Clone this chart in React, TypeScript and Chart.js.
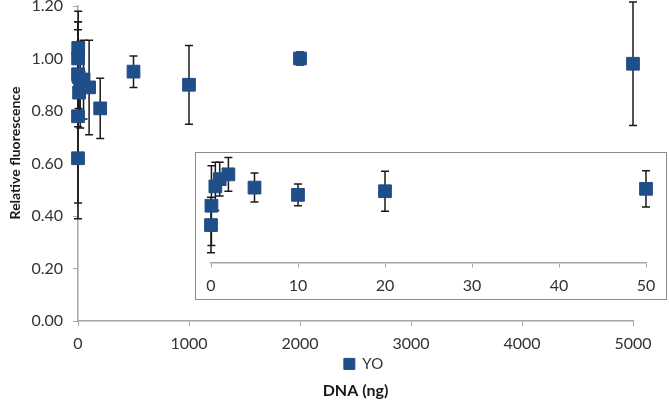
import React, { useEffect, useRef } from "react";
import { Chart, registerables } from "chart.js";

Chart.register(...registerables);

// ---- data ----
const doseNg = [0, 0.05, 0.5, 1, 2, 5, 10, 20, 50, 100, 200, 500, 1000, 2000, 5000];
const relFluor = [0.62, 0.78, 0.94, 1.0, 1.04, 0.93, 0.87, 0.9, 0.92, 0.89, 0.81, 0.95, 0.9, 1.0, 0.98];
const errFluor = [0.23, 0.33, 0.2, 0.14, 0.14, 0.12, 0.09, 0.165, 0.15, 0.18, 0.115, 0.06, 0.15, 0.025, 0.235];
const seriesLabel = "YO";
const xTitle = "DNA (ng)";
const yTitle = "Relative fluorescence";
const mainXTicks = [0, 1000, 2000, 3000, 4000, 5000];
const yTickValues = [0, 0.2, 0.4, 0.6, 0.8, 1.0, 1.2];
const insetXTicks = [0, 10, 20, 30, 40, 50];
const insetMaxX = 50;

// ---- styles ----
const FONT = "Lato";
const MARKER = "#1f4e89";
const AXIS = "#a6a6a6";
const TICK_TEXT = "#333333";
const TITLE_TEXT = "#1a1a1a";

type Pt = { x: number; y: number };

function makeErrorBars(errs: number[]) {
  return {
    id: "errorBars",
    beforeDatasetsDraw(chart: any) {
      const ctx = chart.ctx;
      const xs = chart.scales.x;
      const ys = chart.scales.y;
      const ds = chart.data.datasets[0];
      ctx.save();
      ctx.strokeStyle = "#1a1a1a";
      ctx.lineWidth = 1.5;
      ds.data.forEach((p: Pt, i: number) => {
        const e = errs[i];
        const x = xs.getPixelForValue(p.x);
        const yt = ys.getPixelForValue(p.y + e);
        const yb = ys.getPixelForValue(p.y - e);
        ctx.beginPath();
        ctx.moveTo(x, yt);
        ctx.lineTo(x, yb);
        ctx.moveTo(x - 4, yt);
        ctx.lineTo(x + 4, yt);
        ctx.moveTo(x - 4, yb);
        ctx.lineTo(x + 4, yb);
        ctx.stroke();
      });
      ctx.restore();
    },
  };
}

const yTitlePlugin = {
  id: "yTitle",
  afterDraw(chart: any) {
    const ctx = chart.ctx;
    ctx.save();
    ctx.translate(15, 153);
    ctx.rotate(-Math.PI / 2);
    ctx.font = `bold 14px ${FONT}`;
    ctx.fillStyle = TITLE_TEXT;
    ctx.textAlign = "center";
    ctx.textBaseline = "middle";
    ctx.fillText(yTitle, 0, 0);
    ctx.restore();
  },
};

const legendShift = {
  id: "legendShift",
  afterLayout(chart: any) {
    const l = chart.legend;
    if (l) {
      l.left += 8;
      l.right += 8;
    }
  },
};

const zeroPad = (s: any) => {
  s.paddingTop = 0;
  s.paddingBottom = 0;
  s.paddingLeft = 0;
  s.paddingRight = 0;
};

export default function App() {
  const mainRef = useRef<HTMLCanvasElement | null>(null);
  const insetRef = useRef<HTMLCanvasElement | null>(null);

  useEffect(() => {
    const points: Pt[] = doseNg.map((x, i) => ({ x, y: relFluor[i] }));
    const insetIdx = doseNg.map((x, i) => i).filter((i) => doseNg[i] <= insetMaxX);
    const insetPoints = insetIdx.map((i) => points[i]);
    const insetErrs = insetIdx.map((i) => errFluor[i]);

    const tickFont = { family: FONT, size: 16 };

    const dataset = (data: Pt[]) => ({
      label: seriesLabel,
      data,
      pointStyle: "rect" as const,
      pointRadius: 9,
      pointHoverRadius: 9,
      backgroundColor: MARKER,
      borderColor: MARKER,
      borderWidth: 1,
      showLine: false,
      clip: false as any,
    });

    const main = new Chart(mainRef.current!, {
      type: "scatter",
      data: { datasets: [dataset(points)] },
      options: {
        responsive: false,
        animation: false,
        events: [],
        layout: { autoPadding: false, padding: { top: 6, left: 0, right: 36, bottom: 0 } } as any,
        scales: {
          x: {
            type: "linear",
            min: 0,
            max: 5000,
            afterBuildTicks: (s: any) => {
              s.ticks = mainXTicks.map((v) => ({ value: v }));
            },
            afterFit: (s: any) => {
              s.height = 31.4;
              zeroPad(s);
            },
            grid: { drawOnChartArea: false, drawTicks: true, tickLength: 5, color: AXIS },
            border: { color: AXIS, width: 1.5 },
            ticks: { font: tickFont, color: TICK_TEXT, padding: 8, maxRotation: 0, callback: (v: any) => String(v) },
          },
          y: {
            type: "linear",
            min: 0,
            max: 1.2,
            afterBuildTicks: (s: any) => {
              s.ticks = yTickValues.map((v) => ({ value: v }));
            },
            afterFit: (s: any) => {
              s.width = 78;
              zeroPad(s);
            },
            grid: { drawOnChartArea: false, drawTicks: true, tickLength: 5, color: AXIS },
            border: { color: AXIS, width: 1.5 },
            ticks: { font: tickFont, color: TICK_TEXT, padding: 10, callback: (v: any) => Number(v).toFixed(2) },
          },
        },
        plugins: {
          legend: {
            display: true,
            position: "bottom",
            fullSize: false,
            labels: {
              boxWidth: 11,
              boxHeight: 11,
              padding: 4,
              color: TICK_TEXT,
              font: { family: FONT, size: 15 },
            },
          },
          title: {
            display: true,
            position: "bottom",
            fullSize: false,
            text: xTitle,
            color: TITLE_TEXT,
            font: { family: FONT, size: 16, weight: "bold" },
            padding: { top: 0, bottom: 3.4 },
          },
          tooltip: { enabled: false },
        },
      },
      plugins: [makeErrorBars(errFluor), yTitlePlugin, legendShift],
    });

    const inset = new Chart(insetRef.current!, {
      type: "scatter",
      data: { datasets: [dataset(insetPoints)] },
      options: {
        responsive: false,
        animation: false,
        events: [],
        layout: { autoPadding: false, padding: { top: 2, left: 15, right: 20, bottom: 0 } } as any,
        scales: {
          x: {
            type: "linear",
            min: 0,
            max: insetMaxX,
            afterBuildTicks: (s: any) => {
              s.ticks = insetXTicks.map((v) => ({ value: v }));
            },
            afterFit: (s: any) => {
              s.height = 36.5;
              zeroPad(s);
            },
            grid: { drawOnChartArea: false, drawTicks: true, tickLength: 5, color: AXIS },
            border: { color: AXIS, width: 1.5 },
            ticks: { font: tickFont, color: TICK_TEXT, padding: 9, maxRotation: 0, callback: (v: any) => String(v) },
          },
          y: {
            type: "linear",
            display: false,
            min: 0.31,
            max: 1.2,
          },
        },
        plugins: {
          legend: { display: false },
          title: { display: false },
          tooltip: { enabled: false },
        },
      },
      plugins: [makeErrorBars(insetErrs)],
    });

    return () => {
      main.destroy();
      inset.destroy();
    };
  }, []);

  return (
    <div style={{ position: "absolute", left: 0, top: 0, width: 669, height: 404, background: "#ffffff" }}>
      <canvas ref={mainRef} width={669} height={404} style={{ position: "absolute", left: 0, top: 0, width: 669, height: 404 }} />
      <div
        style={{
          position: "absolute",
          left: 195,
          top: 152,
          width: 470,
          height: 146,
          border: "1px solid #8c8c8c",
          background: "#ffffff",
        }}
      >
        <canvas ref={insetRef} width={470} height={146} style={{ display: "block", width: 470, height: 146 }} />
      </div>
    </div>
  );
}
